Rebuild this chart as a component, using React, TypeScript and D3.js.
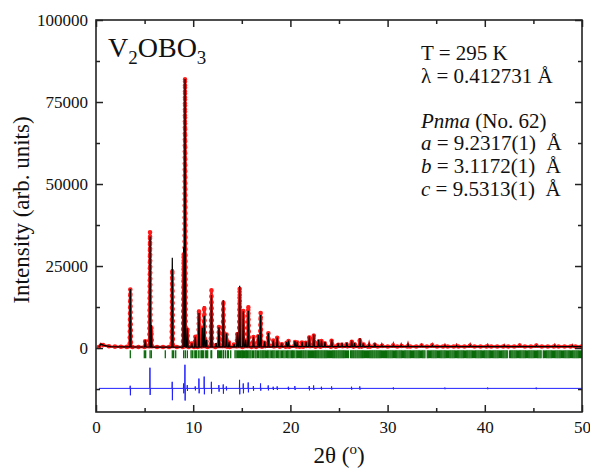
import { useEffect, useRef } from 'react';
import * as d3 from 'd3';

const WIDTH = 590;
const HEIGHT = 472;
const MARGIN = { top: 20, right: 8, bottom: 60, left: 96 };

const FONT = '"Liberation Serif", "Times New Roman", serif';

// Axes -----------------------------------------------------------------------
const X_DOMAIN = [0, 50];
const Y_DOMAIN = [-19500, 100000];
const X_TICKS = [0, 10, 20, 30, 40, 50];
const X_MINOR = [5, 15, 25, 35, 45];
const Y_TICKS = [0, 25000, 50000, 75000, 100000];
const Y_MINOR = [-12500, 12500, 37500, 62500, 87500];

// Background under the pattern (2θ, counts)
const bgPos = [0.3, 0.5, 0.8, 1.5, 3, 6, 10, 20, 30, 40, 50];
const bgVal = [300, 1200, 800, 450, 350, 300, 300, 400, 450, 450, 450];

// Peaks: position (2θ), observed and calculated maxima
const peakPos = [
  3.53, 5.07, 5.56, 5.69, 7.85, 9.02, 9.16, 9.4, 9.85, 10.22, 10.6, 10.94, 11.14, 11.35,
  11.88, 12.35, 12.65, 13.1, 13.42, 13.7, 14.2, 14.54, 14.78, 15.16, 15.4, 15.67, 16.2,
  16.7, 16.94, 17.35, 17.73, 18.24, 18.65, 19.1, 19.6, 19.8, 20.47, 20.7, 21.2, 21.6,
  21.95, 22.4, 22.9, 23.2, 23.56, 24.25, 24.9, 25.3, 25.8, 26.3, 26.6, 27.15, 27.5, 28.1,
  28.7, 29.4, 30.6, 31.4, 32.1, 33.5, 34.6, 35.9, 37.1, 38.5, 40.3, 42.0, 43.6, 45.3,
  47.2, 49.0,
];
const peakObs = [
  18000, 2400, 35500, 6500, 24000, 29000, 82500, 6200, 1500, 3600, 11700, 6500, 12800, 2500,
  17600, 1500, 6500, 14500, 4400, 1900, 1200, 4700, 18500, 11400, 2500, 12900, 3500,
  4000, 10900, 2000, 4700, 2400, 3300, 1500, 1900, 2400, 2200, 2000, 1900, 2000,
  3700, 4300, 2600, 2300, 1900, 2600, 1400, 1600, 1700, 2400, 1600, 3000, 1500, 1200,
  1300, 900, 1000, 900, 1100, 800, 900, 800, 800, 900, 800, 750, 800, 750,
  800, 750,
];
const peakCalc = [
  18000, 2400, 34000, 7000, 27500, 30800, 82000, 6000, 1500, 3400, 10700, 6200, 9800, 2500,
  16200, 1500, 6300, 14600, 4400, 1900, 1200, 4700, 19000, 11200, 2500, 11400, 3400,
  4000, 10100, 2000, 4600, 2300, 3200, 1500, 1800, 2300, 2100, 1900, 1900, 1900,
  3600, 4100, 2500, 2300, 1800, 2500, 1400, 1500, 1600, 2300, 1500, 2900, 1400, 1100,
  1200, 900, 900, 800, 1000, 800, 800, 700, 700, 800, 700, 700, 700, 700,
  700, 700,
];

// Bragg reflection positions (2θ)
const braggLow = [
  3.53, 4.97, 5.11, 5.56, 5.69, 7.13, 7.85, 7.99, 8.2, 9.02, 9.19, 9.4, 9.78, 9.91, 10.1,
  10.25, 10.32, 10.52, 10.7, 10.87, 10.94, 11.08, 11.29, 11.38, 11.49, 11.83, 11.9, 12.52,
  12.58, 12.72, 12.82, 12.93, 13.1, 13.14, 13.34, 13.55, 13.62, 13.86,
];
const braggMid = [
  14.3, 14.42, 14.55, 14.66, 14.76, 14.88, 14.99, 15.08, 15.16, 15.28, 15.4, 15.5, 15.6,
  15.72, 15.84, 15.95, 16.1, 16.2, 16.36, 16.46, 16.6, 16.72, 16.87, 16.98, 17.1, 17.2,
  17.3, 17.42, 17.55, 17.66, 17.78, 17.92, 18.06, 18.18, 18.3, 18.42, 18.57, 18.68, 18.8,
  18.94, 19.08, 19.2, 19.33, 19.46, 19.6, 19.72, 19.84, 19.97, 20.1, 20.2, 20.3, 20.45,
  20.6, 20.72, 20.83, 20.95, 21.05, 21.16, 21.28, 21.38, 21.5, 21.6, 21.72, 21.85, 21.95,
  22.06, 22.17, 22.28, 22.38, 22.5, 22.6, 22.71, 22.82, 22.92, 23.04, 23.15, 23.25, 23.36,
  23.48, 23.58, 23.69, 23.8, 23.92, 24.02, 24.12, 24.24, 24.35, 24.46, 24.56, 24.68, 24.78,
  24.9, 25.0, 25.11, 25.22, 25.33, 25.44, 25.54, 25.66, 25.76, 25.88, 25.98, 26.2, 26.31,
  26.42, 26.52, 26.64, 26.74, 26.86, 26.96, 27.07, 27.18, 27.29, 27.4, 27.5, 27.62, 27.72,
  27.84, 27.94, 28.05, 28.16, 28.27, 28.38, 28.48, 28.6, 28.7, 28.82, 28.92, 29.03, 29.14,
  29.25, 29.36, 29.46, 29.58, 29.68, 29.8, 29.9,
];
const braggHigh = [
  30.02, 30.13, 30.25, 30.36, 30.48, 30.6, 30.71, 30.83, 30.94, 31.06, 31.18, 31.29, 31.41,
  31.52, 31.64, 31.76, 31.87, 31.99, 32.1, 32.22, 32.34, 32.45, 32.57, 32.68, 32.8, 32.92,
  33.03, 33.15, 33.26, 33.38, 33.5, 33.61, 33.73, 33.84, 34.08, 34.19, 34.31, 34.42, 34.54,
  34.66, 34.77, 34.89, 35.0, 35.12, 35.24, 35.35, 35.47, 35.58, 35.7, 35.82, 35.93, 36.05,
  36.16, 36.28, 36.4, 36.51, 36.63, 36.74, 36.86, 36.98, 37.09, 37.21, 37.32, 37.44, 37.56,
  37.67, 37.79, 37.9, 38.02, 38.14, 38.25, 38.37, 38.48, 38.6, 38.72, 38.83, 38.95, 39.06,
  39.18, 39.3, 39.41, 39.53, 39.64, 39.76, 39.88, 39.99, 40.11, 40.22, 40.34, 40.46, 40.57,
  40.69, 40.8, 40.92, 41.04, 41.15, 41.27, 41.38, 41.5, 41.62, 41.73, 41.85, 41.96, 42.08,
  42.2, 42.31, 42.54, 42.66, 42.78, 42.89, 43.01, 43.12, 43.24, 43.36, 43.47, 43.59, 43.7,
  43.82, 43.94, 44.05, 44.17, 44.28, 44.4, 44.52, 44.63, 44.75, 44.86, 44.98, 45.1, 45.21,
  45.33, 45.44, 45.56, 45.68, 45.79, 46.02, 46.14, 46.26, 46.37, 46.49, 46.6, 46.72, 46.84,
  46.95, 47.07, 47.18, 47.3, 47.42, 47.53, 47.65, 47.76, 47.88, 48.0, 48.11, 48.23, 48.34,
  48.46, 48.58, 48.69, 48.81, 48.92, 49.04, 49.16, 49.27, 49.39, 49.5, 49.62, 49.74, 49.85,
  49.97,
];

// Difference curve (obs - calc) spikes
const diffPos = [
  3.53, 5.56, 7.85, 9.02, 9.16, 9.4, 10.22, 10.6, 11.14, 11.88, 12.65, 13.1, 13.42, 14.78,
  15.16, 15.67, 16.2, 16.94, 17.73, 18.24, 18.65, 19.8, 20.47, 21.95, 22.4, 23.2, 24.25,
  26.3, 27.15, 30.6, 35.9, 40.3, 45.3,
];
const diffUp = [
  800, 6300, 2000, 1500, 7200, 1000, 600, 3000, 3600, 2000, 1000, 1200, 600, 2600,
  1500, 1800, 700, 1500, 900, 500, 600, 500, 700, 700, 900, 500, 600,
  500, 600, 300, 250, 250, 250,
];
const diffDown = [
  -2100, -2000, -3600, -1500, -3700, -800, -600, -1500, -1800, -1600, -1000, -1600, -600, -1800,
  -1500, -1200, -700, -700, -600, -500, -500, -500, -500, -600, -500, -400, -400,
  -400, -400, -300, -250, -250, -250,
];

const DIFF_OFFSET = -12300;
const BRAGG_TOP = -700;
const BRAGG_BOTTOM = -3100;
const PEAK_HALF_WIDTH = 0.07;

export default function App() {
  const svgRef = useRef<SVGSVGElement | null>(null);

  useEffect(() => {
    const innerW = WIDTH - MARGIN.left - MARGIN.right;
    const innerH = HEIGHT - MARGIN.top - MARGIN.bottom;

    const svg = d3.select(svgRef.current);
    svg.selectAll('*').remove();
    svg.attr('width', WIDTH).attr('height', HEIGHT).style('font-family', FONT);

    const g = svg.append('g').attr('transform', `translate(${MARGIN.left},${MARGIN.top})`);

    const x = d3.scaleLinear().domain(X_DOMAIN).range([0, innerW]);
    const y = d3.scaleLinear().domain(Y_DOMAIN).range([innerH, 0]);
    const bg = d3.scaleLinear().domain(bgPos).range(bgVal).clamp(true);

    // Profile vertices: background points plus a narrow triangle for each peak
    const profile = (heights: number[]) => {
      const pts: [number, number][] = [];
      bgPos.forEach((p, i) => {
        const inside = peakPos.some((q) => Math.abs(q - p) <= PEAK_HALF_WIDTH);
        if (!inside) pts.push([p, bgVal[i]]);
      });
      peakPos.forEach((p, i) => {
        pts.push([p - PEAK_HALF_WIDTH, bg(p - PEAK_HALF_WIDTH)]);
        pts.push([p, heights[i]]);
        pts.push([p + PEAK_HALF_WIDTH, bg(p + PEAK_HALF_WIDTH)]);
      });
      return pts.sort((a, b) => a[0] - b[0]);
    };

    const line = d3
      .line<[number, number]>()
      .x((d) => x(d[0]))
      .y((d) => y(d[1]));

    const clip = svg.append('defs').append('clipPath').attr('id', 'plot-clip');
    clip.append('rect').attr('width', innerW).attr('height', innerH);

    const plot = g.append('g').attr('clip-path', 'url(#plot-clip)');

    // Observed (red circles)
    const obs = profile(peakObs);
    plot
      .append('path')
      .attr('d', line(obs))
      .attr('fill', 'none')
      .attr('stroke', '#d81010')
      .attr('stroke-width', 2.6);
    plot
      .append('path')
      .attr('d', line(obs))
      .attr('fill', 'none')
      .attr('stroke', '#ff1a1a')
      .attr('stroke-width', 4.6)
      .attr('stroke-linecap', 'round')
      .attr('stroke-dasharray', '0 6');

    // Calculated (black line)
    plot
      .append('path')
      .attr('d', line(profile(peakCalc)))
      .attr('fill', 'none')
      .attr('stroke', '#000')
      .attr('stroke-width', 1.2);

    // Bragg positions (green ticks)
    const bragg = [...braggLow, ...braggMid, ...braggHigh];
    plot
      .append('g')
      .selectAll('line')
      .data(bragg)
      .join('line')
      .attr('x1', (d) => x(d))
      .attr('x2', (d) => x(d))
      .attr('y1', y(BRAGG_TOP))
      .attr('y2', y(BRAGG_BOTTOM))
      .attr('stroke', '#0b6b0b')
      .attr('stroke-width', 1.3);

    // Difference curve (blue)
    const diff: [number, number][] = [[0.3, 0]];
    diffPos.forEach((p, i) => {
      diff.push([p - 0.03, 0], [p - 0.01, diffUp[i]], [p + 0.01, diffDown[i]], [p + 0.03, 0]);
    });
    diff.push([50, 0]);
    plot
      .append('path')
      .attr('d', line(diff.map((d) => [d[0], d[1] + DIFF_OFFSET] as [number, number])))
      .attr('fill', 'none')
      .attr('stroke', '#2020ff')
      .attr('stroke-width', 1);

    // Axes -------------------------------------------------------------------
    const styleAxis = (sel: any) => {
      sel.select('.domain').remove();
      sel.selectAll('line').attr('stroke', '#222').attr('stroke-width', 1.5);
      sel.selectAll('text').style('font-family', FONT).style('font-size', '17px').attr('fill', '#111');
    };

    g.append('g')
      .attr('transform', `translate(0,${innerH})`)
      .call(d3.axisBottom(x).tickValues(X_TICKS).tickSize(-7).tickPadding(9).tickFormat(d3.format('d')))
      .call(styleAxis);
    g.append('g')
      .attr('transform', `translate(0,${innerH})`)
      .call(d3.axisBottom(x).tickValues(X_MINOR).tickSize(-4).tickFormat(() => ''))
      .call(styleAxis);
    g.append('g')
      .call(d3.axisTop(x).tickValues(X_TICKS).tickSize(-7).tickFormat(() => ''))
      .call(styleAxis);
    g.append('g')
      .call(d3.axisTop(x).tickValues(X_MINOR).tickSize(-4).tickFormat(() => ''))
      .call(styleAxis);

    g.append('g')
      .call(d3.axisLeft(y).tickValues(Y_TICKS).tickSize(-7).tickPadding(8).tickFormat(d3.format('d')))
      .call(styleAxis);
    g.append('g')
      .call(d3.axisLeft(y).tickValues(Y_MINOR).tickSize(-4).tickFormat(() => ''))
      .call(styleAxis);
    g.append('g')
      .attr('transform', `translate(${innerW},0)`)
      .call(d3.axisRight(y).tickValues(Y_TICKS).tickSize(-7).tickFormat(() => ''))
      .call(styleAxis);
    g.append('g')
      .attr('transform', `translate(${innerW},0)`)
      .call(d3.axisRight(y).tickValues(Y_MINOR).tickSize(-4).tickFormat(() => ''))
      .call(styleAxis);

    g.append('rect')
      .attr('width', innerW)
      .attr('height', innerH)
      .attr('fill', 'none')
      .attr('stroke', '#222')
      .attr('stroke-width', 1.6);

    // Axis titles ------------------------------------------------------------
    const xt = svg
      .append('text')
      .attr('x', MARGIN.left + innerW / 2)
      .attr('y', 463)
      .attr('text-anchor', 'middle')
      .style('font-size', '23px')
      .attr('fill', '#111');
    xt.append('tspan').text('2θ (');
    xt.append('tspan').attr('dy', -9).style('font-size', '15px').text('o');
    xt.append('tspan').attr('dy', 9).text(')');

    svg
      .append('text')
      .attr('transform', `translate(29,${MARGIN.top + innerH / 2 - 6}) rotate(-90)`)
      .attr('text-anchor', 'middle')
      .style('font-size', '23px')
      .attr('fill', '#111')
      .text('Intensity (arb. units)');

    // Annotations ------------------------------------------------------------
    const formula = svg
      .append('text')
      .attr('x', 108)
      .attr('y', 57)
      .style('font-size', '28px')
      .attr('fill', '#111');
    formula.append('tspan').text('V');
    formula.append('tspan').attr('dy', 7).style('font-size', '19px').text('2');
    formula.append('tspan').attr('dy', -7).text('OBO');
    formula.append('tspan').attr('dy', 7).style('font-size', '19px').text('3');

    const info = svg
      .append('g')
      .attr('transform', 'translate(421,0)')
      .style('font-size', '21px')
      .attr('fill', '#111');
    const row = (yPos: number) =>
      info.append('text').attr('y', yPos).style('white-space', 'pre');
    row(60).text('T = 295 K');
    row(82.6).text('λ = 0.412731 Å');
    const sg = row(127.8);
    sg.append('tspan').style('font-style', 'italic').text('Pnma');
    sg.append('tspan').text(' (No. 62)');
    const lattice: [string, string][] = [
      ['a', ' = 9.2317(1)  Å'],
      ['b', ' = 3.1172(1)  Å'],
      ['c', ' = 9.5313(1)  Å'],
    ];
    lattice.forEach(([k, v], i) => {
      const t = row(150.4 + i * 22.6);
      t.append('tspan').style('font-style', 'italic').text(k);
      t.append('tspan').text(v);
    });
  }, []);

  return (
    <div style={{ position: 'absolute', left: 0, top: 0 }}>
      <svg ref={svgRef} />
    </div>
  );
}
